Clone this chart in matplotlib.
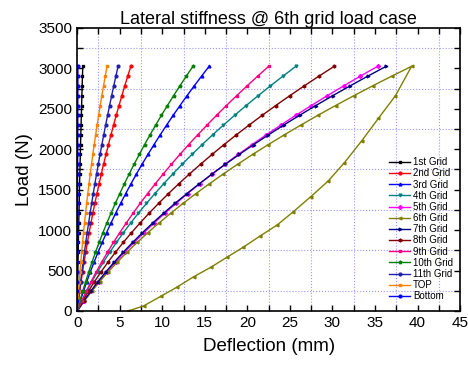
"""Lateral stiffness curves for the 6th grid load case."""

import matplotlib
matplotlib.use("Agg")
import matplotlib.pyplot as plt
from matplotlib.ticker import MultipleLocator

plt.rcParams['font.family'] = ['Liberation Sans', 'DejaVu Sans']

# load steps (N), shared by every loading branch
loads = [0, 121, 242, 363, 484, 605, 726, 847, 968, 1089, 1210, 1331, 1452,
         1573, 1694, 1815, 1936, 2057, 2178, 2299, 2420, 2541, 2662, 2783,
         2904, 3025]

# deflections (mm)
grid_1 = [0, .017, .035, .054, .073, .094, .115, .136, .158, .182, .205, .230,
          .255, .281, .308, .335, .364, .392, .422, .453, .484, .515, .548,
          .581, .615, .65]
grid_2 = [0, .143, .295, .457, .627, .806, .995, 1.193, 1.399, 1.615, 1.840,
          2.073, 2.317, 2.569, 2.829, 3.100, 3.379, 3.667, 3.965, 4.271, 4.586,
          4.911, 5.245, 5.587, 5.939, 6.3]
grid_3 = [0, .352, .727, 1.124, 1.542, 1.984, 2.447, 2.934, 3.443, 3.973,
          4.526, 5.101, 5.699, 6.319, 6.961, 7.626, 8.313, 9.023, 9.754,
          10.507, 11.284, 12.082, 12.904, 13.747, 14.612, 15.5]
grid_4 = [0, .535, 1.110, 1.727, 2.385, 3.084, 3.824, 4.605, 5.428, 6.291,
          7.196, 8.142, 9.129, 10.157, 11.226, 12.336, 13.487, 14.680, 15.913,
          17.188, 18.504, 19.861, 21.259, 22.698, 24.179, 25.7]
grid_5 = [0, .801, 1.656, 2.559, 3.512, 4.518, 5.574, 6.682, 7.840, 9.047,
          10.308, 11.617, 12.980, 14.392, 15.853, 17.368, 18.931, 20.548,
          22.214, 23.930, 25.698, 27.516, 29.387, 31.308, 33.277, 35.3]
grid_6 = [0, .817, 1.698, 2.641, 3.647, 4.716, 5.848, 7.043, 8.300, 9.621,
          11.004, 12.450, 13.959, 15.531, 17.166, 18.864, 20.625, 22.448,
          24.335, 26.284, 28.296, 30.371, 32.509, 34.710, 36.973, 39.3]
# 6th grid unloading branch
grid_6_unload_defl = [37.4, 35.4, 33.45, 31.4, 29.5, 27.45, 25.4, 23.5, 21.5,
                      19.5, 17.6, 15.7, 13.7, 11.7, 9.8, 7.8, 6.0]
grid_6_unload_load = [2661, 2382, 2105, 1833, 1607, 1413, 1227, 1063, 927,
                      787, 664, 540, 424, 293, 180, 62, 0]
grid_7 = [0, .755, 1.568, 2.439, 3.369, 4.356, 5.401, 6.505, 7.667, 8.886,
          10.164, 11.500, 12.894, 14.346, 15.856, 17.424, 19.050, 20.735,
          22.477, 24.277, 26.136, 28.053, 30.027, 32.060, 34.151, 36.3]
grid_8 = [0, .628, 1.305, 2.029, 2.803, 3.624, 4.494, 5.412, 6.378, 7.393,
          8.456, 9.567, 10.727, 11.935, 13.191, 14.496, 15.849, 17.250, 18.700,
          20.198, 21.744, 23.339, 24.981, 26.673, 28.412, 30.2]
grid_9 = [0, .511, 1.055, 1.631, 2.239, 2.880, 3.553, 4.259, 4.997, 5.767,
          6.570, 7.405, 8.273, 9.173, 10.105, 11.070, 12.067, 13.097, 14.159,
          15.253, 16.380, 17.539, 18.731, 19.955, 21.211, 22.5]
grid_10 = [0, .309, .638, .986, 1.353, 1.741, 2.147, 2.574, 3.021, 3.486,
           3.971, 4.476, 5.001, 5.545, 6.108, 6.691, 7.294, 7.917, 8.558,
           9.219, 9.901, 10.601, 11.322, 12.062, 12.821, 13.6]
grid_11 = [0, .128, .260, .398, .542, .691, .846, 1.005, 1.170, 1.341, 1.517,
           1.698, 1.884, 2.076, 2.274, 2.477, 2.685, 2.898, 3.117, 3.342,
           3.571, 3.806, 4.046, 4.292, 4.544, 4.8]
top = [0, .073, .151, .235, .325, .420, .521, .627, .739, .857, .980, 1.109,
       1.243, 1.383, 1.529, 1.680, 1.837, 1.999, 2.167, 2.341, 2.520, 2.705,
       2.895, 3.091, 3.293, 3.5]
bottom = [0, .003, .006, .01, .013, .016, .019, .022, .026, .029, .032, .035,
          .038, .042, .045, .048, .051, .054, .058, .061, .064, .067, .070,
          .074, .077, .08]

labels = ['1st Grid', '2nd Grid', '3rd Grid', '4th Grid', '5th Grid',
          '6th Grid', '7th Grid', '8th Grid', '9th Grid', '10th Grid',
          '11th Grid', 'TOP', 'Bottom']


def make_plot(output_path: str):
    """Draws all grid curves and saves the figure."""

    fig = plt.figure(figsize=(4.68, 3.68), dpi=100)
    ax = fig.add_axes([0.165, 0.155, 0.818, 0.769])

    series = [
        (grid_1, loads, '#000000', 's'),
        (grid_2, loads, '#ff0000', 'o'),
        (grid_3, loads, '#0000ff', '^'),
        (grid_4, loads, '#008080', 'v'),
        (grid_5, loads, '#ff00ff', 'D'),
        (grid_6 + grid_6_unload_defl, loads + grid_6_unload_load,
         '#808000', '<'),
        (grid_7, loads, '#000080', '>'),
        (grid_8, loads, '#800000', 'h'),
        (grid_9, loads, '#ff0080', 's'),
        (grid_10, loads, '#008000', 'p'),
        (grid_11, loads, '#2020b0', 'o'),
        (top, loads, '#ff8000', 's'),
        (bottom, loads, '#0000ff', 'o'),
    ]
    for (xs, ys, color, marker), label in zip(series, labels):
        ax.plot(xs, ys, color=color, marker=marker, markersize=2.0,
                linewidth=1.0, label=label)

    ax.set_xlim(0, 45)
    ax.set_ylim(0, 3500)
    ax.xaxis.set_major_locator(MultipleLocator(5))
    ax.xaxis.set_minor_locator(MultipleLocator(2.5))
    ax.yaxis.set_major_locator(MultipleLocator(500))
    ax.yaxis.set_minor_locator(MultipleLocator(250))
    ax.grid(which='minor', color='#9999ff', linestyle=':', linewidth=0.8)
    ax.tick_params(which='both', direction='in', top=True, right=True,
                   labelsize=11, width=1.0)
    ax.tick_params(which='major', length=4)
    ax.tick_params(which='minor', length=4)
    for spine in ax.spines.values():
        spine.set_linewidth(1.2)

    ax.set_xlabel('Deflection (mm)', fontsize=13.5, labelpad=6)
    ax.set_ylabel('Load (N)', fontsize=13.5, labelpad=4)
    ax.set_title('Lateral stiffness @ 6th grid load case', fontsize=13,
                 pad=2)

    ax.legend(loc='lower right', bbox_to_anchor=(1.0, 0.01), frameon=False,
              fontsize=7, handlelength=2.2, labelspacing=0.12,
              handletextpad=0.3, borderaxespad=0.3)

    fig.savefig(output_path, dpi=100)


if __name__ == "__main__":
    make_plot("out.png")
